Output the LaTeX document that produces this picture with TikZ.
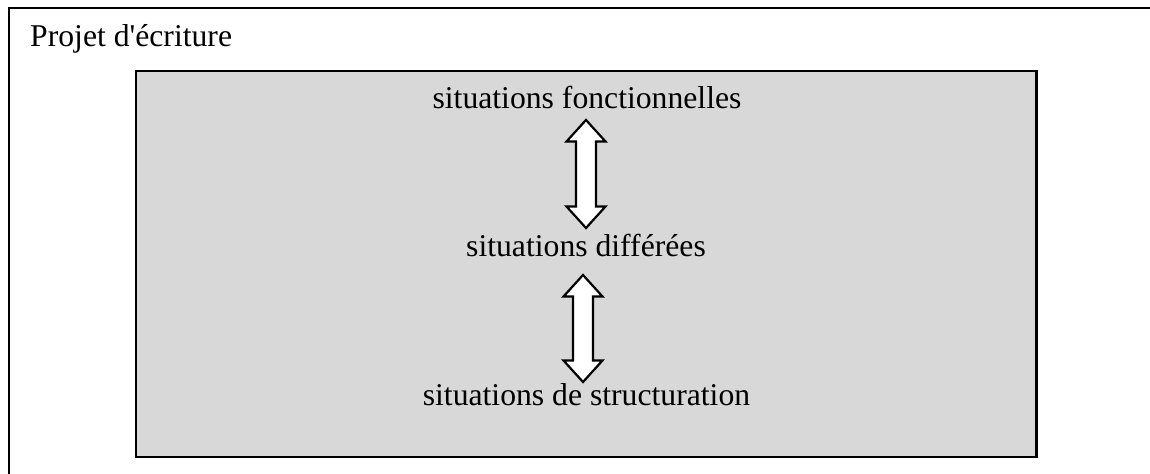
\documentclass[tikz,border=0pt]{standalone}
\usepackage{fontspec}
\setmainfont{Liberation Serif}[Ligatures=TeXOff]
\usetikzlibrary{calc}
\definecolor{boxgray}{RGB}{216,216,216}
\tikzset{
  lbl/.style={anchor=base,inner sep=0pt,font=\fontsize{31.8}{38}\selectfont},
  frame/.style={line width=2bp,draw=black},
  inner/.style={line width=2.2bp,draw=black,fill=boxgray},
  blockarr/.style={line width=2.2bp,draw=black,fill=white,line join=miter}
}
\newcommand\vblockarrow[3]{% x, top y, bottom y
  \draw[blockarr] (#1,#2) -- ++(19.5,21.5) -- ++(-9.5,0) -- (#1+10,#3-21.5) -- ++(9.5,0)
    -- (#1,#3) -- (#1-19.5,#3-21.5) -- ++(9.5,0) -- (#1-10,#2+21.5) -- ++(-9.5,0) -- cycle;}
\begin{document}
\begin{tikzpicture}[x=1bp,y=-1bp]
\useasboundingbox (0,0) rectangle (1150,474);
\draw[frame] (9,480) -- (9,8) -- (1160,8);
\node[lbl,anchor=base west] (title) at (30,47) {Projet d'écriture};
\path[inner] (136,71) rectangle (1036.5,457);
\node[lbl] (fonct) at (587,109) {situations fonctionnelles};
\node[lbl] (diff) at (586,257) {situations différées};
\node[lbl] (struct) at (586.5,406) {situations de structuration};
\coordinate (a1t) at (586,120);
\coordinate (a1b) at (586,228);
\coordinate (a2t) at (583,275);
\coordinate (a2b) at (583,382);
\vblockarrow{586}{120}{228}
\vblockarrow{583}{275}{382}
\end{tikzpicture}
\end{document}
